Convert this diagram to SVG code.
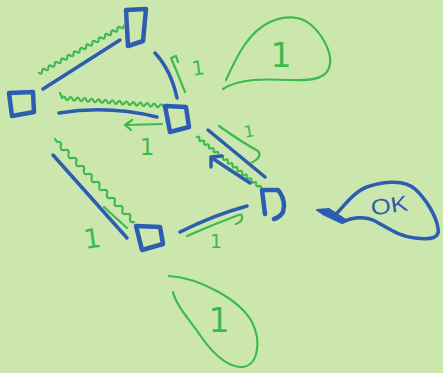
<svg xmlns="http://www.w3.org/2000/svg" width="443" height="373" viewBox="0 0 443 373">
<style>
.bg{fill:#cce7ad}
.b{fill:none;stroke:#2c5db0;stroke-width:3.5;stroke-linecap:round;stroke-linejoin:round}
.bn{fill:none;stroke:#2c5db0;stroke-width:4.5;stroke-linecap:round;stroke-linejoin:round}
.g{fill:none;stroke:#3dba4e;stroke-width:2.2;stroke-linecap:round;stroke-linejoin:round}
.gt{fill:#3dba4e;font-family:"DejaVu Sans",sans-serif;text-anchor:middle}
.bt{fill:#2c5db0;font-family:"Liberation Sans",sans-serif;text-anchor:middle}
</style>
<rect class="bg" x="0" y="0" width="443" height="373"/>

<g id="connectors">
  <!-- A-B -->
  <path class="b" d="M43,89 L120,40"/>
  <path class="g" d="M39,73 q3.13,1.92 3.14,-1.75 t3.14,-1.75 t3.14,-1.75 t3.14,-1.75 t3.14,-1.75 t3.14,-1.75 t3.14,-1.75 t3.14,-1.75 t3.14,-1.75 t3.14,-1.75 t3.14,-1.75 t3.14,-1.75 t3.14,-1.75 t3.14,-1.75 t3.14,-1.75 t3.14,-1.75 t3.14,-1.75 t3.14,-1.75 t3.14,-1.75 t3.14,-1.75 t3.14,-1.75 t3.14,-1.75 t3.14,-1.75 t3.14,-1.75 t3.14,-1.75 t3.14,-1.75 t3.14,-1.75"/>
  <!-- B-C -->
  <path class="g" d="M60,93 L62,98 q1.99,-3.05 3.48,0.276 t3.48,0.276 t3.48,0.276 t3.48,0.276 t3.48,0.276 t3.48,0.276 t3.48,0.276 t3.48,0.276 t3.48,0.276 t3.48,0.276 t3.48,0.276 t3.48,0.276 t3.48,0.276 t3.48,0.276 t3.48,0.276 t3.48,0.276 t3.48,0.276 t3.48,0.276 t3.48,0.276 t3.48,0.276 t3.48,0.276 t3.48,0.276 t3.48,0.276 t3.48,0.276 t3.48,0.276 t3.48,0.276 t3.48,0.276 t3.48,0.276 t3.48,0.276"/>
  <path class="b" d="M59,113 Q108,105 157,117"/>
  <path class="g" d="M162,124 L126,125 M132,120 L125,125 L131,130"/>
  <text class="gt" x="147" y="155" font-size="23">1</text>
  <!-- A-C -->
  <path class="b" d="M155,53 Q171,70 177,98"/>
  <path class="g" d="M185,92 Q178,74 171,58 L176,56 L178,62"/>
  <text class="gt" x="198" y="75" font-size="20" transform="rotate(-8 198 68)">1</text>
  <!-- C-D -->
  <path class="b" d="M208,130 L265,177"/>
  <path class="g" d="M219,126 Q240,141 258,151 Q263,157 251,163"/>
  <path class="g" d="M197,137 q2.8,-1.09 2.37,1.89 t2.37,1.89 t2.37,1.89 t2.37,1.89 t2.37,1.89 t2.37,1.89 t2.37,1.89 t2.37,1.89 t2.37,1.89 t2.37,1.89 t2.37,1.89 t2.37,1.89 t2.37,1.89 t2.37,1.89 t2.37,1.89 t2.37,1.89 t2.37,1.89 t2.37,1.89 t2.37,1.89 t2.37,1.89 t2.37,1.89 t2.37,1.89 t2.37,1.89 t2.37,1.89 t2.37,1.89 t2.37,1.89 t2.37,1.89"/>
  <path class="b" d="M250,183 Q230,170 212,158 M211,167 L211,157 L222,156"/>
  <text class="gt" x="249" y="137" font-size="16" transform="rotate(-10 249 131)">1</text>
  <!-- E-D -->
  <path class="b" d="M180,232 Q214,215 247,206"/>
  <path class="g" d="M187,236 Q212,225 236,216 Q243,212 242,219 Q241,222 236,224"/>
  <text class="gt" x="216" y="248" font-size="19">1</text>
  <!-- B-E -->
  <path class="b" d="M53,155 L127,238"/>
  <path class="g" d="M55,139 L57,142 q5.1,-1.05 3.85,4.0 t3.85,4.0 t3.85,4.0 t3.85,4.0 t3.85,4.0 t3.85,4.0 t3.85,4.0 t3.85,4.0 t3.85,4.0 t3.85,4.0 t3.85,4.0 t3.85,4.0 t3.85,4.0 t3.85,4.0 t3.85,4.0 t3.85,4.0 t3.85,4.0 t3.85,4.0 t3.85,4.0 t3.85,4.0"/>
  <path class="g" d="M104,207 L127,228"/>
  <text class="gt" x="92" y="248" font-size="27" transform="rotate(-8 92 238)">1</text>
</g>

<g id="nodeA"><path class="bn" d="M126,10 L146,9 L143,41 L128,46 Z"/></g>
<g id="nodeB"><path class="bn" d="M9,93 L33,92 L34,112 L12,116 Z"/></g>
<g id="nodeC"><path class="bn" d="M165,106 L186,107 L189,127 L170,132 Z"/></g>
<g id="nodeD"><path class="bn" d="M262,190 L265,214 M262,190 L278,190 Q284,197 284,206 L283,212 Q280,217 274,219"/></g>
<g id="nodeE"><path class="bn" d="M136,226 L160,227 L163,244 L142,250 Z"/></g>

<g id="bubble-top">
  <path class="g" d="M226,80 C236,58 248,32 270,22 C285,15 300,16 310,24 C320,32 332,50 330,64 C328,78 315,81 290,80 C265,79 240,78 223,89"/>
  <text class="gt" x="281" y="67" font-size="33">1</text>
</g>
<g id="bubble-bottom">
  <path class="g" d="M169,276 C200,278 240,300 252,322 C262,342 258,368 240,367 C225,366 210,350 200,335 C188,318 176,305 173,292"/>
  <text class="gt" x="219" y="332" font-size="33">1</text>
</g>
<g id="bubble-ok">
  <path class="b" d="M337,213 C345,205 355,190 370,186 C385,181 405,180 415,189 C425,198 436,215 438,228 C440,238 432,240 415,238 C398,236 388,228 375,221 C365,216 352,217 343,222"/>
  <path fill="#2c5db0" stroke="#2c5db0" stroke-width="2" stroke-linejoin="round" d="M317,210 L329,209 L346,220 L342,223 L323,214 Z"/>
  <text class="bt" x="389" y="213" font-size="22" textLength="37" lengthAdjust="spacingAndGlyphs" transform="rotate(-8 389 204)">OK</text>
</g>
</svg>
